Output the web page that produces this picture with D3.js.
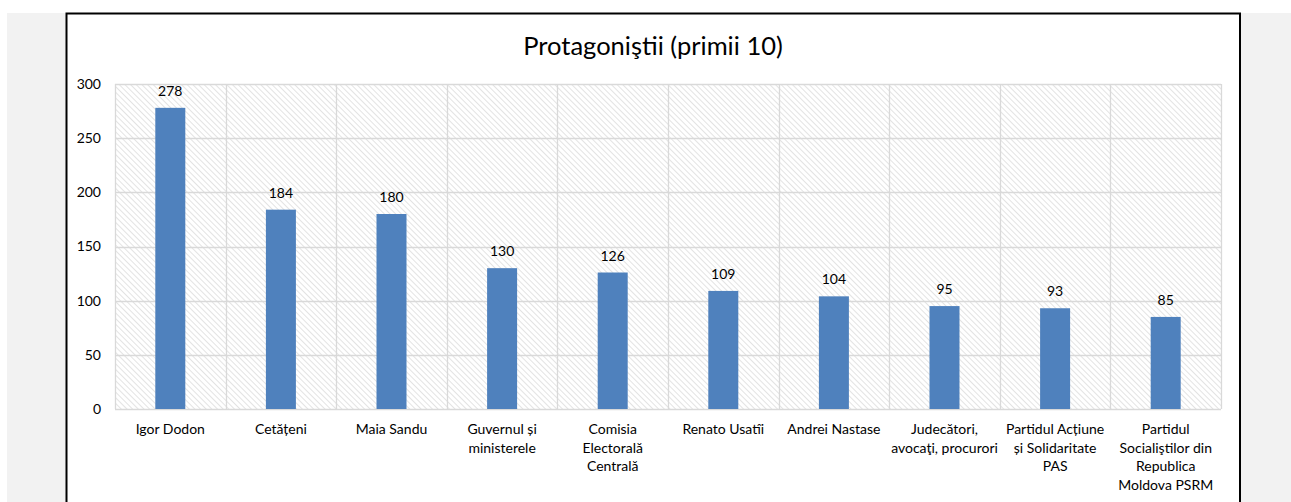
<!DOCTYPE html>
<html><head><meta charset="utf-8">
<script src="https://cdn.jsdelivr.net/npm/d3@7"></script>
<style>
html,body{margin:0;padding:0;background:#fff;}
svg{display:block;}
text{font-family:Lato,"Open Sans",sans-serif;fill:#000;}
</style></head>
<body>
<script>
const categories = ["Igor Dodon","Cetățeni","Maia Sandu","Guvernul și ministerele","Comisia Electorală Centrală","Renato Usatîi","Andrei Nastase","Judecători, avocaţi, procurori","Partidul Acțiune și Solidaritate PAS","Partidul Socialiştilor din Republica Moldova PSRM"];
const labelLines = [["Igor Dodon"],["Cetățeni"],["Maia Sandu"],["Guvernul și","ministerele"],["Comisia","Electorală","Centrală"],["Renato Usatîi"],["Andrei Nastase"],["Judecători,","avocaţi, procurori"],["Partidul Acțiune","și Solidaritate","PAS"],["Partidul","Socialiştilor din","Republica","Moldova PSRM"]];
const values = [278,184,180,130,126,109,104,95,93,85];
const yTicks = [0,50,100,150,200,250,300];
const title = "Protagoniştii (primii 10)";

const W=1291,H=502;
const svg=d3.select("body").append("svg").attr("width",W).attr("height",H);
svg.append("rect").attr("x",7).attr("y",13).attr("width",W-7).attr("height",H-13).attr("fill","#f2f2f2");
svg.append("rect").attr("x",66.5).attr("y",13.5).attr("width",1240-66.5).attr("height",H).attr("fill","#fff").attr("stroke","#000").attr("stroke-width",2);

const defs=svg.append("defs");
const pat=defs.append("pattern").attr("id","hatch").attr("patternUnits","userSpaceOnUse").attr("width",4).attr("height",4).attr("patternTransform","rotate(-45)");
pat.append("rect").attr("width",4).attr("height",4).attr("fill","#fff");
pat.append("line").attr("x1",0).attr("y1",0).attr("x2",0).attr("y2",4).attr("stroke","#d4d4d4").attr("stroke-width",1.3);

const x0=115,x1=1221,y0=409,y1=84;
const x=d3.scaleBand().domain(categories).range([x0,x1]).paddingInner(0).paddingOuter(0);
const y=d3.scaleLinear().domain([0,300]).range([y0,y1]);

svg.append("rect").attr("x",x0).attr("y",y1).attr("width",x1-x0).attr("height",y0-y1).attr("fill","url(#hatch)");

const g=svg.append("g");
g.selectAll("line.h").data(yTicks).join("line").attr("x1",x0).attr("x2",x1).attr("y1",d=>Math.round(y(d))+0.5).attr("y2",d=>Math.round(y(d))+0.5).attr("stroke","#d9d9d9").attr("stroke-width",1.3);
const bounds=categories.map(c=>x(c)).concat([x1]);
g.selectAll("line.v").data(bounds).join("line").attr("y1",y1).attr("y2",y0).attr("x1",d=>Math.round(d)+0.5).attr("x2",d=>Math.round(d)+0.5).attr("stroke","#d9d9d9").attr("stroke-width",1.3);

const yAxis=d3.axisLeft(y).tickValues(yTicks).tickSize(0).tickPadding(14);
const ya=svg.append("g").attr("transform",`translate(${x0},0)`).call(yAxis);
ya.select(".domain").remove();
ya.selectAll("text").attr("font-size",14).attr("font-family","Lato,'Open Sans',sans-serif").attr("fill","#000");

const bw=30;
svg.selectAll("rect.bar").data(values).join("rect").attr("class","bar")
 .attr("x",(d,i)=>x(categories[i])+x.bandwidth()/2-bw/2).attr("width",bw)
 .attr("y",d=>y(d)).attr("height",d=>y0-y(d)).attr("fill","#4f81bd");

svg.selectAll("text.val").data(values).join("text").attr("class","val")
 .attr("x",(d,i)=>x(categories[i])+x.bandwidth()/2).attr("y",d=>y(d)-12)
 .attr("text-anchor","middle").attr("font-size",14).text(d=>d);

const xl=svg.selectAll("text.xl").data(labelLines).join("text").attr("class","xl")
 .attr("text-anchor","middle").attr("font-size",14)
 .attr("transform",(d,i)=>`translate(${x(categories[i])+x.bandwidth()/2},434)`);
xl.selectAll("tspan").data(d=>d).join("tspan").attr("x",0).attr("dy",(d,i)=>i?18.7:0).text(d=>d);

svg.append("text").attr("x",653).attr("y",55).attr("text-anchor","middle").attr("font-size",25.5).text(title);
</script>
</body></html>
